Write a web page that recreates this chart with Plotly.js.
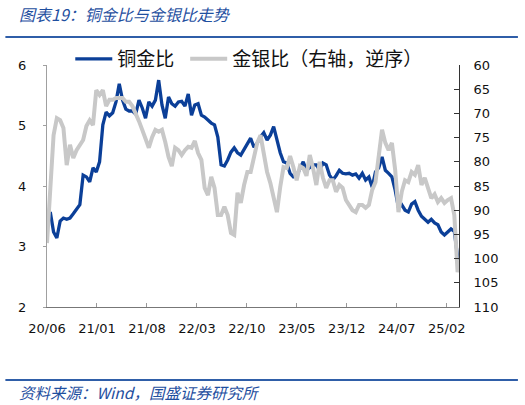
<!DOCTYPE html>
<html>
<head>
<meta charset="utf-8">
<script src="https://cdn.plot.ly/plotly-3.0.1.min.js"></script>
<style>html,body{margin:0;padding:0;background:#fff;}#chart{width:525px;height:405px;}</style>
</head>
<body>
<div id="chart"></div>
<script>
// ---- data (biweekly samples) ----
const dates = [
"2020-06-19","2020-07-03","2020-07-17","2020-07-31","2020-08-14","2020-08-28","2020-09-11","2020-09-25","2020-10-09","2020-10-23",
"2020-11-06","2020-11-20","2020-12-04","2020-12-18","2021-01-01","2021-01-15","2021-01-29","2021-02-12","2021-02-26","2021-03-12",
"2021-03-26","2021-04-09","2021-04-23","2021-05-07","2021-05-21","2021-06-04","2021-06-18","2021-07-02","2021-07-16","2021-07-30",
"2021-08-13","2021-08-27","2021-09-10","2021-09-24","2021-10-08","2021-10-22","2021-11-05","2021-11-19","2021-12-03","2021-12-17",
"2021-12-31","2022-01-14","2022-01-28","2022-02-11","2022-02-25","2022-03-11","2022-03-25","2022-04-08","2022-04-22","2022-05-06",
"2022-05-20","2022-06-03","2022-06-17","2022-07-01","2022-07-15","2022-07-29","2022-08-12","2022-08-26","2022-09-09","2022-09-23",
"2022-10-07","2022-10-21","2022-11-04","2022-11-18","2022-12-02","2022-12-16","2022-12-30","2023-01-13","2023-01-27","2023-02-10",
"2023-02-24","2023-03-10","2023-03-24","2023-04-07","2023-04-21","2023-05-05","2023-05-19","2023-06-02","2023-06-16","2023-06-30",
"2023-07-14","2023-07-28","2023-08-11","2023-08-25","2023-09-08","2023-09-22","2023-10-06","2023-10-20","2023-11-03","2023-11-17",
"2023-12-01","2023-12-15","2023-12-29","2024-01-12","2024-01-26","2024-02-09","2024-02-23","2024-03-08","2024-03-22","2024-04-05",
"2024-04-19","2024-05-03","2024-05-17","2024-05-31","2024-06-14","2024-06-28","2024-07-12","2024-07-26","2024-08-09","2024-08-23",
"2024-09-06","2024-09-20","2024-10-04","2024-10-18","2024-11-01","2024-11-15","2024-11-29","2024-12-13","2024-12-27","2025-01-10",
"2025-01-24","2025-02-07","2025-02-21","2025-03-07","2025-03-21","2025-04-04","2025-04-10"
];
const copperGold = [
3.39,3.57,3.24,3.14,3.42,3.47,3.45,3.47,3.54,3.62,
3.69,4.18,4.15,4.07,4.30,4.23,4.40,5.01,5.22,5.16,
5.21,5.39,5.69,5.42,5.27,5.24,5.24,5.19,5.42,5.29,
5.12,5.39,5.32,5.42,5.75,5.34,5.12,5.47,5.36,5.32,
5.39,5.40,5.32,5.52,5.17,5.34,5.36,5.17,5.14,5.09,
5.04,5.01,4.81,4.35,4.33,4.43,4.56,4.63,4.55,4.51,
4.60,4.68,4.79,4.64,4.71,4.81,4.88,4.76,4.84,4.98,
4.76,4.55,4.40,4.38,4.21,4.15,4.17,4.30,4.40,4.26,
4.30,4.35,4.35,4.26,4.38,4.35,4.18,4.10,4.17,4.26,
4.21,4.20,4.21,4.18,4.20,4.13,4.21,4.10,4.15,3.98,
4.23,4.30,4.48,4.26,4.21,4.15,3.93,3.64,3.69,3.60,
3.57,3.70,3.74,3.60,3.50,3.44,3.40,3.45,3.39,3.36,
3.24,3.19,3.24,3.29,3.25,2.83,2.78
];
const goldSilver = [
96.8,86.9,74.5,71.0,71.4,73.0,80.7,76.5,79.2,77.6,
76.7,75.5,72.6,71.4,72.4,65.2,66.2,65.2,68.5,67.2,
67.2,66.8,66.8,66.8,67.6,67.6,68.5,69.9,71.6,73.4,
75.3,77.1,74.9,73.4,73.8,73.4,75.9,79.0,80.9,77.1,
77.6,78.6,77.6,76.9,77.1,75.7,78.2,79.6,85.4,86.9,
83.1,85.4,91.0,91.0,89.3,91.0,94.7,95.1,86.4,88.5,
84.8,82.1,82.1,78.6,76.1,74.5,78.6,82.1,84.4,87.5,
90.4,85.2,81.1,81.3,78.8,81.1,83.8,80.9,81.3,82.9,
78.6,81.3,84.8,80.0,83.3,85.4,83.8,83.8,86.2,84.8,
85.4,87.9,88.9,90.0,90.4,88.9,88.9,89.5,88.9,85.8,
84.2,78.6,73.4,76.1,77.6,76.1,81.7,90.4,86.2,83.8,
84.2,82.1,82.7,80.7,84.8,83.3,85.2,87.5,86.7,88.3,
87.5,88.5,87.9,87.5,91.0,102.8,101.3
];
const tickDates = ["2020-06-19","2021-01-18","2021-08-19","2022-03-20","2022-10-19","2023-05-20","2023-12-19","2024-07-19","2025-02-17"];
const tickLabels = ["20/06","21/01","21/08","22/03","22/10","23/05","23/12","24/07","25/02"];
const leftTicks = [2,3,4,5,6];
const rightTicks = [60,65,70,75,80,85,90,95,100,105,110];
const seriesNames = ["铜金比","金银比（右轴，逆序）"];

const tickFont = {family: "DejaVu Sans, Verdana, sans-serif", size: 13, color: "#111"};
const blueText = "#1f4f9f";
const legendFont = {family: "Noto Sans CJK SC, sans-serif", size: 19, color: "#111"};

const traces = [
  {x: dates, y: copperGold, name: seriesNames[0], type: "scatter", mode: "lines",
   line: {color: "#0b3f98", width: 3.3}, yaxis: "y", legend: "legend"},
  {x: dates, y: goldSilver, name: seriesNames[1], type: "scatter", mode: "lines",
   line: {color: "#c8c8c8", width: 4}, yaxis: "y2", legend: "legend2"}
];

const layout = {
  width: 525, height: 405,
  margin: {l: 46.7, r: 66, t: 65, b: 98},
  paper_bgcolor: "#fff", plot_bgcolor: "#fff",
  showlegend: true,
  legend: {orientation: "h", x: 0.0565, xanchor: "left", y: 1.025, yanchor: "middle",
    font: legendFont, bgcolor: "rgba(0,0,0,0)", itemwidth: 37},
  legend2: {orientation: "h", x: 0.3354, xanchor: "left", y: 1.025, yanchor: "middle",
    font: legendFont, bgcolor: "rgba(0,0,0,0)", itemwidth: 37},
  xaxis: {type: "date", range: ["2020-06-19", "2025-04-10"], tickvals: tickDates, ticktext: tickLabels,
    showgrid: false, zeroline: false, showline: true, linecolor: "#777", linewidth: 1,
    ticks: "inside", ticklen: 4, tickcolor: "#999", tickfont: tickFont, ticklabelstandoff: 9},
  yaxis: {range: [2, 6], tickvals: leftTicks, showgrid: false, zeroline: false,
    showline: true, linecolor: "#a0a0a0", linewidth: 1, ticks: "outside", ticklen: 3, tickcolor: "#a0a0a0",
    tickfont: tickFont, ticklabelstandoff: 14},
  yaxis2: {range: [110, 60], tickvals: rightTicks, overlaying: "y", side: "right", showgrid: false,
    zeroline: false, showline: true, linecolor: "#333", linewidth: 1, ticks: "inside", ticklen: 5, tickcolor: "#333",
    tickfont: tickFont, ticklabelstandoff: 11},
  shapes: [
    {type: "line", xref: "paper", yref: "paper", x0: -0.101, x1: 1.143, y0: 1.1157, y1: 1.1157,
     line: {color: "#2f5ea8", width: 2}},
    {type: "line", xref: "paper", yref: "paper", x0: -0.101, x1: 1.143, y0: -0.3017, y1: -0.3017,
     line: {color: "#2f5ea8", width: 2}}
  ],
  annotations: [
    {text: "<i>图表19：铜金比与金银比走势</i>", xref: "paper", yref: "paper", x: -0.072, y: 1.2107,
     xanchor: "left", yanchor: "middle", showarrow: false,
     font: {family: "Noto Sans CJK SC, sans-serif", size: 16, color: blueText}},
    {text: "<i>资料来源：Wind，国盛证券研究所</i>", xref: "paper", yref: "paper", x: -0.072, y: -0.351,
     xanchor: "left", yanchor: "middle", showarrow: false,
     font: {family: "Noto Sans CJK SC, sans-serif", size: 15.5, color: blueText}}
  ]
};

Plotly.newPlot("chart", traces, layout, {staticPlot: true, displayModeBar: false});
</script>
</body>
</html>
